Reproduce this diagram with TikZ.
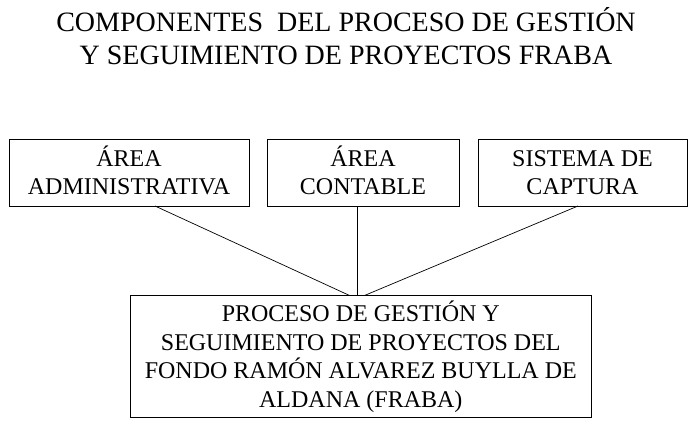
\documentclass[tikz,border=0pt]{standalone}
\usepackage{fontspec}
\setmainfont{Liberation Serif}
\newcommand{\stk}[3]{\fontsize{#1}{#2}\selectfont\vbox{\vskip\fontcharht\font`H\baselineskip=#2\lineskiplimit=-\maxdimen\lineskip=0pt\halign{\hfil\smash{##}\hfil\cr#3\crcr}}}
\tikzset{
  comp/.style={draw, line width=0.9pt, inner sep=0pt, align=center},
  conn/.style={line width=0.7pt}
}
\begin{document}
\begin{tikzpicture}[x=1pt,y=-1pt]
\useasboundingbox (0,0) rectangle (696,426);
\node[inner sep=0pt] (title) at (346,39) {\stk{28pt}{33pt}{COMPONENTES\ \ DEL PROCESO DE GESTIÓN\cr Y SEGUIMIENTO DE PROYECTOS FRABA}};
\node[comp, minimum width=240pt, minimum height=66.7pt] (adm) at (129,172.6) {\stk{24pt}{28.5pt}{ÁREA\cr ADMINISTRATIVA}};
\node[comp, minimum width=192pt, minimum height=66.7pt] (cont) at (363,172.6) {\stk{24pt}{28.5pt}{ÁREA\cr CONTABLE}};
\node[comp, minimum width=209pt, minimum height=66.7pt] (cap) at (582.5,172.6) {\stk{24pt}{28.5pt}{SISTEMA DE\cr CAPTURA}};
\node[comp, minimum width=460.5pt, minimum height=122pt] (proc) at (360.8,356.7) {\stk{24pt}{28.8pt}{PROCESO DE GESTIÓN Y\cr SEGUIMIENTO DE PROYECTOS DEL\cr FONDO RAMÓN ALVAREZ BUYLLA DE\cr ALDANA (FRABA)}};
\coordinate (a1) at (155,206);
\coordinate (a2) at (350,295.7);
\coordinate (c1) at (357,206);
\coordinate (c2) at (357,295.7);
\coordinate (s1) at (578,206);
\coordinate (s2) at (364,295.7);
\draw[conn] (a1) -- (a2);
\draw[conn] (c1) -- (c2);
\draw[conn] (s1) -- (s2);
\end{tikzpicture}
\end{document}
